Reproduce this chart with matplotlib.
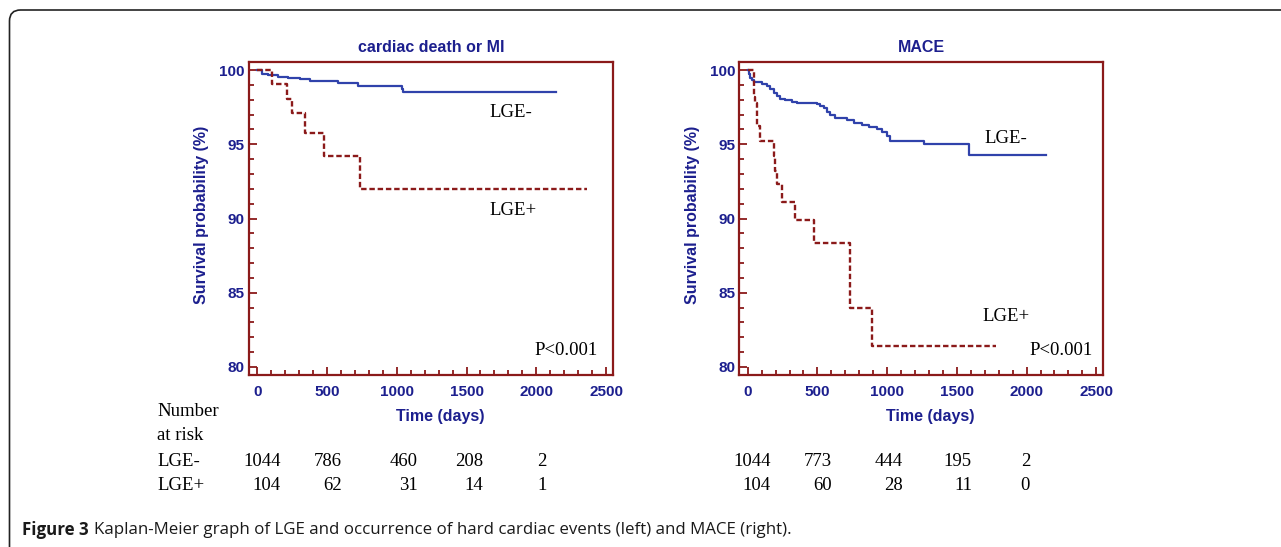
import matplotlib
matplotlib.use('Agg')
import matplotlib.pyplot as plt
from matplotlib.patches import FancyBboxPatch
from matplotlib.transforms import IdentityTransform
from matplotlib.ticker import MultipleLocator

W, H = 1281, 547

# ---------------- data
# cardiac death or MI
t_mi_neg = [0, 31, 79, 150, 222, 306, 378, 581, 724, 1035, 1047, 2141]
s_mi_neg = [100, 99.73, 99.66, 99.5, 99.44, 99.37, 99.28, 99.1, 98.95, 98.7, 98.5, 98.5]
t_mi_pos = [0, 103, 210, 246, 342, 478, 736, 2366]
s_mi_pos = [100, 99.04, 98.08, 97.1, 95.78, 94.23, 91.99, 91.99]

# MACE
t_mace_neg = [0, 10, 20, 31, 43, 100, 138, 163, 187, 210, 234, 270, 318, 354, 497, 521,
              545, 568, 592, 628, 712, 760, 820, 867, 927, 963, 999, 1023, 1262, 1584, 2139]
s_mace_neg = [100, 99.7, 99.45, 99.3, 99.2, 99.05, 98.9, 98.7, 98.47, 98.25, 98.07, 97.98,
              97.87, 97.76, 97.69, 97.58, 97.42, 97.2, 96.97, 96.8, 96.63, 96.45, 96.3,
              96.14, 96.0, 95.85, 95.56, 95.24, 95.0, 94.28, 94.28]
t_mace_pos = [0, 43, 55, 67, 90, 186, 198, 210, 246, 342, 473, 736, 891, 1783]
s_mace_pos = [100, 98.2, 97.75, 96.2, 95.2, 94.2, 93.2, 92.3, 91.1, 89.9, 88.37, 83.95,
              81.4, 81.4]

# numbers at risk
risk_mi_neg = [1044, 786, 460, 208, 2]
risk_mi_pos = [104, 62, 31, 14, 1]
risk_mace_neg = [1044, 773, 444, 195, 2]
risk_mace_pos = [104, 60, 28, 11, 0]

titles = ['cardiac death or MI', 'MACE']

NAVY = '#1c1f8e'
BLUE = '#3042ab'
DRED = '#8b1a1a'
SERIF = 'Liberation Serif'
SANS = 'Liberation Sans'


def fx(x):
    return x / W


def fy(y):
    return 1 - y / H


fig = plt.figure(figsize=(W / 100, H / 100), dpi=100)


def km_panel(left, title, tn, sn, tp, sp, lab_neg, lab_pos, p_x):
    ax = fig.add_axes([fx(left), fy(375), 363.7 / W, 313 / H])
    ax.step(tn, sn, where='post', color=BLUE, lw=1.6)
    ax.step(tp, sp, where='post', color=DRED, lw=1.7, linestyle=(0, (2.3, 1.2)))
    ax.set_xlim(-60, 2548)
    ax.set_ylim(79.46, 100.54)
    ax.xaxis.set_major_locator(MultipleLocator(500))
    ax.xaxis.set_minor_locator(MultipleLocator(100))
    ax.yaxis.set_major_locator(MultipleLocator(5))
    ax.yaxis.set_minor_locator(MultipleLocator(1))
    ax.tick_params(which='both', direction='in', color=DRED, width=1.3,
                   labelcolor=NAVY, labelsize=11)
    ax.tick_params(which='major', length=5.5)
    ax.tick_params(which='minor', length=3.5)
    ax.tick_params(axis='x', pad=7)
    ax.tick_params(axis='y', pad=3)
    for lab in ax.get_xticklabels() + ax.get_yticklabels():
        lab.set_fontweight('bold')
        lab.set_family(SANS)
    for s in ax.spines.values():
        s.set_color(DRED)
        s.set_linewidth(1.6)
    ax.text(0.5, 1.045, title, transform=ax.transAxes, ha='center', va='center',
            color=NAVY, fontsize=11.5, fontweight='bold', family=SANS)
    ax.text(-0.13, 0.51, 'Survival probability (%)', transform=ax.transAxes,
            rotation=90, ha='center', va='center', color=NAVY, fontsize=11.5,
            fontweight='bold', family=SANS)
    ax.text(0.5 + 9 / 363.7, -0.134, 'Time (days)', transform=ax.transAxes,
            ha='center', va='center', color=NAVY, fontsize=11.5, fontweight='bold',
            family=SANS)
    ax.text(lab_neg[0], lab_neg[1], 'LGE-', ha='left', va='center',
            fontsize=13.5, family=SERIF)
    ax.text(lab_pos[0], lab_pos[1], 'LGE+', ha='left', va='center',
            fontsize=13.5, family=SERIF)
    ax.text(p_x, 81.08, 'P<0.001', ha='right', va='center', fontsize=13.5, family=SERIF)
    return ax


km_panel(249, titles[0], t_mi_neg, s_mi_neg, t_mi_pos, s_mi_pos,
         (1661, 97.17), (1661, 90.57), 2442)
km_panel(739.3, titles[1], t_mace_neg, s_mace_neg, t_mace_pos, s_mace_pos,
         (1697, 95.42), (1682, 83.43), 2472)

# number at risk table
tkw = dict(fontsize=13.5, family=SERIF, va='center')
fig.text(fx(157), fy(412), 'Number', ha='left', **tkw)
fig.text(fx(157), fy(435), 'at risk', ha='left', **tkw)
fig.text(fx(157), fy(462), 'LGE-', ha='left', **tkw)
fig.text(fx(157), fy(486), 'LGE+', ha='left', **tkw)

cols_left = [281, 342, 418, 483, 547]
cols_right = [771, 832, 903, 972, 1030]
for cols, neg, pos in [(cols_left, risk_mi_neg, risk_mi_pos),
                       (cols_right, risk_mace_neg, risk_mace_pos)]:
    for x, a, b in zip(cols, neg, pos):
        fig.text(fx(x), fy(462), str(a), ha='right', **tkw)
        fig.text(fx(x), fy(486), str(b), ha='right', **tkw)

# caption
cap1 = fig.text(fx(22), fy(530), 'Figure 3', fontsize=12.2, fontweight='bold',
                family='Open Sans', va='center', color='#1a1a1a')
r = fig.canvas.get_renderer()
bb = cap1.get_window_extent(r)
fig.text((bb.x1 + 5) / W, fy(530),
         'Kaplan-Meier graph of LGE and occurrence of hard cardiac events (left) and MACE (right).',
         fontsize=12.2, family='Open Sans', va='center', color='#1a1a1a')

# rounded frame
frame = FancyBboxPatch((9.5, -40), 1400, H - 10 + 40, boxstyle='round,pad=0,rounding_size=11',
                       transform=IdentityTransform(), fill=False, edgecolor='#222222', lw=1.2)
fig.add_artist(frame)

fig.savefig('out.png', dpi=100)
